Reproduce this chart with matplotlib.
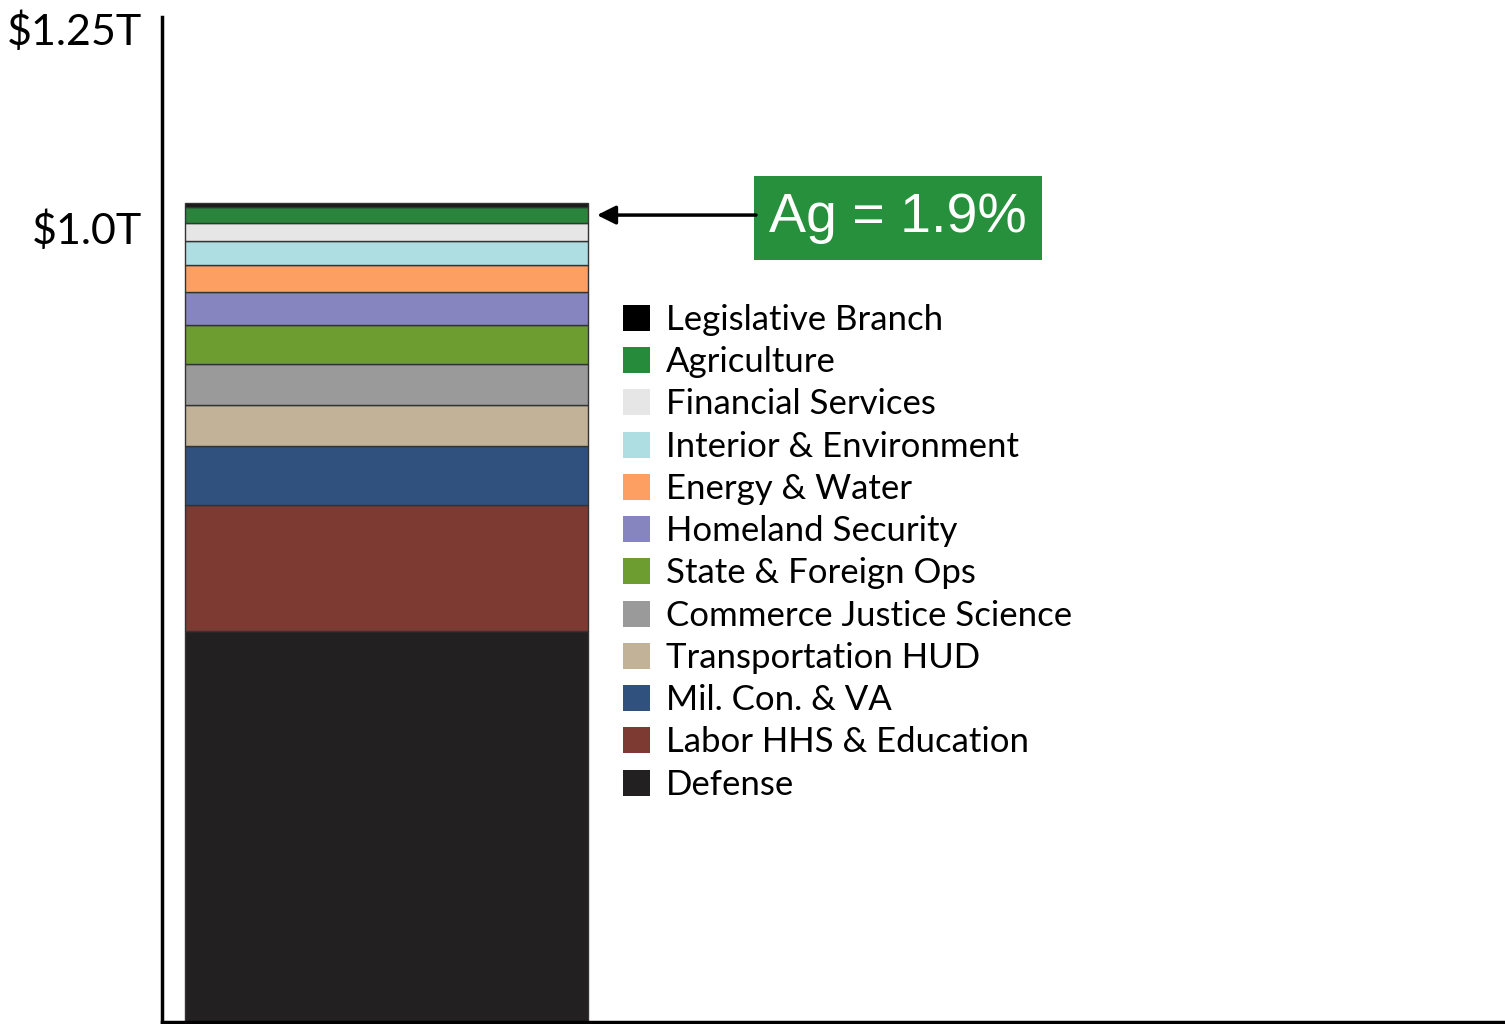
import matplotlib
matplotlib.use("Agg")
import matplotlib.pyplot as plt
from matplotlib.patches import Patch

# Data (billions of dollars), bottom to top of the stack
categories = ["Defense", "Labor HHS & Education", "Mil. Con. & VA", "Transportation HUD",
              "Commerce Justice Science", "State & Foreign Ops", "Homeland Security",
              "Energy & Water", "Interior & Environment", "Financial Services",
              "Agriculture", "Legislative Branch"]
values_b = [491.5, 158.5, 74.0, 52.5, 51.5, 49.0, 41.0, 34.0, 30.5, 22.0, 21.0, 4.4]
colors = ["#232021", "#7d3a32", "#30517e", "#c2b398", "#9a9a9a", "#6d9c30",
          "#8685c0", "#fd9e63", "#aedee2", "#e6e6e6", "#2a843b", "#1a1a1a"]
legend_colors = {"Legislative Branch": "#000000", "Agriculture": "#268c3c"}
tick_values = [1.0, 1.25]
tick_labels = [r"\$1.0T", r"\$1.25T"]
callout_text = "Ag = 1.9%"

FONT = ["Lato", "DejaVu Sans"]

fig = plt.figure(figsize=(15.05, 10.24), dpi=100)
W, H = 1505, 1024
left_px, right_px, bottom_px, top_px = 162, 1505, 1022, 17
ax = fig.add_axes([left_px / W, (H - bottom_px) / H, (right_px - left_px) / W, (bottom_px - top_px) / H])

px_per_T = 795.0
ax.set_ylim(0, (bottom_px - top_px) / px_per_T)
ax.set_xlim(0, 1)


def xfrac(px):
    return (px - left_px) / (right_px - left_px)


bar_x0 = xfrac(185)
bar_w = xfrac(588) - bar_x0

bottom = 0.0
for cat, v, c in zip(categories, values_b, colors):
    ax.bar(bar_x0, v / 1000.0, width=bar_w, bottom=bottom, align="edge",
           color=c, edgecolor="#333333", linewidth=1.0, zorder=2)
    bottom += v / 1000.0

# Axes styling
for s in ["top", "right"]:
    ax.spines[s].set_visible(False)
for s in ["left", "bottom"]:
    ax.spines[s].set_linewidth(2.5)
    ax.spines[s].set_color("black")
ax.set_xticks([])
ax.set_yticks(tick_values)
ax.set_yticklabels(tick_labels, family=FONT, fontsize=31)
ax.tick_params(axis="y", length=0, pad=14)

# Legend (top to bottom order)
leg_order = categories[::-1]
handles = [Patch(facecolor=legend_colors.get(c, col), edgecolor="none", label=c)
           for c, col in zip(leg_order, colors[::-1])]
ax.legend(handles=handles, loc="upper left",
          bbox_to_anchor=(623 / W, (H - 304) / H), bbox_transform=fig.transFigure,
          frameon=False, prop={"family": FONT, "size": 25},
          handlelength=0.78, handleheight=0.78, handletextpad=0.46,
          labelspacing=0.295, borderaxespad=0, borderpad=0)

# Callout box
box_y = (bottom_px - 218) / px_per_T
ax.text(xfrac(898), box_y, callout_text, ha="center", va="center", color="white",
        fontsize=40, family=["Liberation Sans", "DejaVu Sans"],
        bbox=dict(boxstyle="square,pad=0.28", fc="#27903c", ec="none"))

# Arrow pointing at the Agriculture segment
ag_idx = categories.index("Agriculture")
ag_mid = (sum(values_b[:ag_idx]) + values_b[ag_idx] / 2) / 1000.0
ax.annotate("", xy=(xfrac(597), ag_mid), xytext=(xfrac(756), ag_mid),
            arrowprops=dict(arrowstyle="-|>", color="black", lw=2.5,
                            mutation_scale=28, shrinkA=0, shrinkB=0))

fig.savefig("out.png", dpi=100)
